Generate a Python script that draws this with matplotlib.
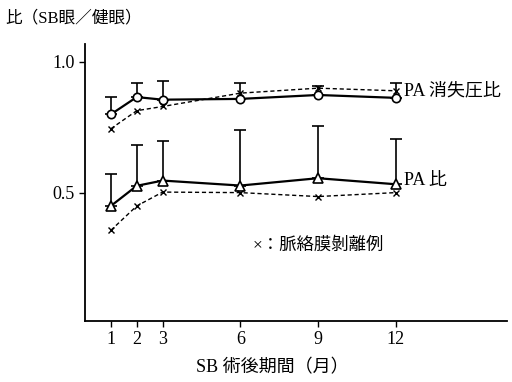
import matplotlib
matplotlib.use("Agg")
import matplotlib.pyplot as plt
import numpy as np

plt.rcParams['font.family'] = ['Liberation Serif', 'Noto Sans CJK JP']

# months after surgery
months = [1, 2, 3, 6, 9, 12]

# PA vanishing pressure ratio (mean, upper SD)
pa_vp = [0.80, 0.866, 0.856, 0.859, 0.874, 0.863]
pa_vp_sd = [0.068, 0.052, 0.072, 0.060, 0.036, 0.055]
pa_vp_cd = [0.745, 0.814, 0.830, 0.881, 0.900, 0.890]  # choroidal detachment cases

# PA ratio (mean, upper SD)
pa = [0.450, 0.527, 0.547, 0.528, 0.556, 0.533]
pa_sd = [0.122, 0.155, 0.153, 0.211, 0.198, 0.172]
pa_cd = [0.357, 0.450, 0.503, 0.501, 0.486, 0.501]

fig = plt.figure(figsize=(5.12, 3.82), dpi=100)
ax = fig.add_axes([0.166, 0.160, 0.824, 0.725])

zeros = np.zeros(len(months))
for mean, sd, mk, size in [(pa_vp, pa_vp_sd, 'o', 6), (pa, pa_sd, '^', 7)]:
    ax.errorbar(months, mean, yerr=[zeros, sd], fmt='none', ecolor='black',
                elinewidth=1.2, capsize=4, capthick=1.2, zorder=2)
    ax.plot(months, mean, color='black', lw=1.6, marker=mk, ms=size,
            mfc='white', mec='black', mew=1.2, zorder=3)

for cd in [pa_vp_cd, pa_cd]:
    ax.plot(months, cd, color='black', lw=1.0, ls=(0, (3, 2)), marker='x',
            ms=5, mew=1.0, zorder=4)

ax.set_xlim(0, 16.3)
ax.set_ylim(0.011, 1.069)
ax.set_xticks(months)
ax.set_xticklabels([str(m) for m in months])
ax.set_yticks([0.5, 1.0])
ax.set_yticklabels(['0.5', '1.0'])
ax.tick_params(labelsize=13, length=4, width=1, direction='out')
for s in ['top', 'right']:
    ax.spines[s].set_visible(False)
for s in ['left', 'bottom']:
    ax.spines[s].set_linewidth(1.3)

W, H = 512, 382
fig.text(5 / W, 1 - 18 / H, '比（SB眼／健眼）', fontsize=12, va='center', ha='left')
fig.text(404 / W, 1 - 91 / H, 'PA 消失圧比', fontsize=13, va='center', ha='left')
fig.text(404 / W, 1 - 181 / H, 'PA 比', fontsize=13, va='center', ha='left')
fig.text(253 / W, 1 - 246 / H, '×：脈絡膜剝離例', fontsize=12.5, va='center', ha='left')
fig.text(272 / W, 1 - 368 / H, 'SB 術後期間（月）', fontsize=13, va='center', ha='center')

fig.savefig('out.png', dpi=100, facecolor='white')
